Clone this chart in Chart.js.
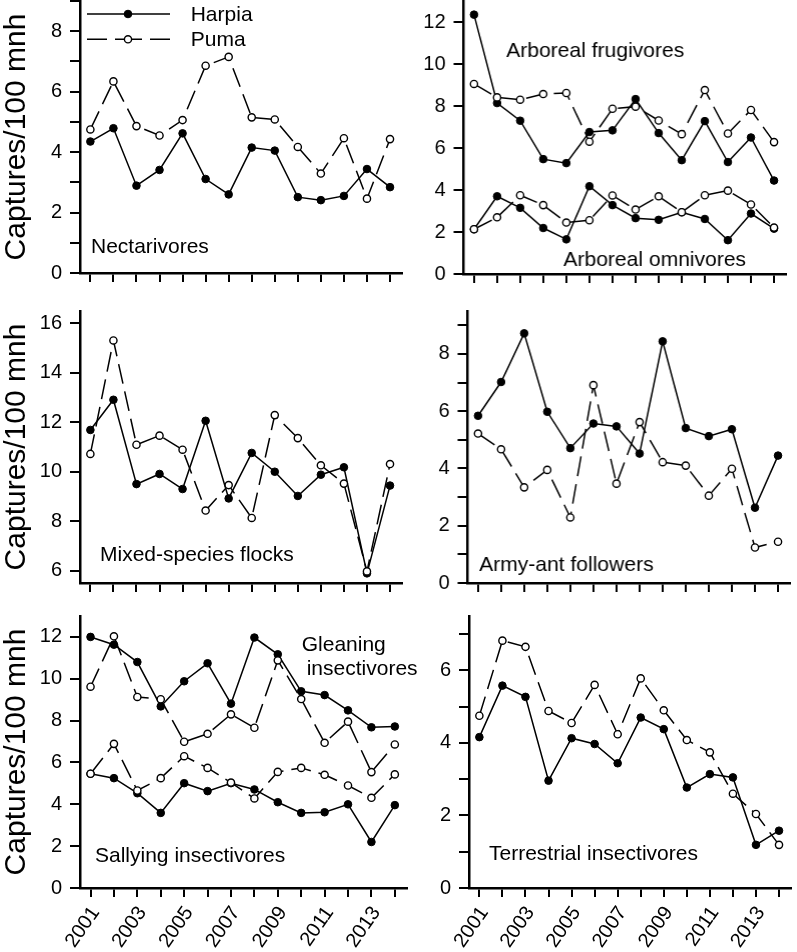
<!DOCTYPE html>
<html><head><meta charset="utf-8">
<script src="https://cdn.jsdelivr.net/npm/chart.js@4.4.1/dist/chart.umd.min.js"></script>
<style>
html,body{margin:0;padding:0;background:#fff;width:797px;height:952px;overflow:hidden;position:relative}
canvas{position:absolute;display:block}
</style></head><body>
<canvas id="c1"></canvas><canvas id="c2"></canvas><canvas id="c3"></canvas>
<canvas id="c4"></canvas><canvas id="c5"></canvas><canvas id="c6"></canvas>
<script>
// ---------- data ----------
const years = [2001,2002,2003,2004,2005,2006,2007,2008,2009,2010,2011,2012,2013,2014];
const yearTickLabels = ['2001','','2003','','2005','','2007','','2009','','2011','','2013',''];
const seriesNames = ['Harpia','Puma'];
const yAxisTitle = 'Captures/100 mnh';

const nectarivoresHarpia = [4.35,4.79,2.89,3.41,4.62,3.11,2.60,4.15,4.05,2.51,2.41,2.55,3.44,2.84];
const nectarivoresPuma   = [4.75,6.34,4.86,4.55,5.06,6.86,7.15,5.15,5.08,4.17,3.29,4.46,2.46,4.43];

const frugivoresHarpia = [12.35,8.14,7.30,5.47,5.28,6.76,6.84,8.33,6.71,5.42,7.28,5.33,6.50,4.45];
const frugivoresPuma   = [9.05,8.41,8.30,8.57,8.62,6.30,7.87,7.97,7.31,6.66,8.76,6.69,7.81,6.28];
const omnivoresHarpia  = [2.13,3.70,3.15,2.19,1.65,4.18,3.28,2.66,2.58,2.94,2.62,1.61,2.88,2.16];
const omnivoresPuma    = [2.13,2.70,3.75,3.28,2.45,2.56,3.74,3.07,3.70,2.94,3.75,3.97,3.31,2.21];

const flocksHarpia = [11.69,12.91,9.50,9.91,9.30,12.06,8.92,10.76,10.00,9.02,9.88,10.18,5.89,9.44];
const flocksPuma   = [10.72,15.31,11.09,11.46,10.89,8.43,9.46,8.13,12.29,11.36,10.26,9.52,5.97,10.31];

const antFollowersHarpia = [5.84,7.02,8.72,5.98,4.71,5.57,5.47,4.52,8.44,5.41,5.13,5.37,2.63,4.45];
const antFollowersPuma   = [5.22,4.67,3.34,3.95,2.29,6.91,3.47,5.62,4.22,4.10,3.05,3.99,1.24,1.44];

const gleaningHarpia = [12.00,11.63,10.80,8.68,9.88,10.74,8.81,11.97,11.17,9.40,9.22,8.49,7.68,7.72];
const gleaningPuma   = [9.62,12.03,9.13,9.02,6.99,7.37,8.30,7.66,10.88,9.03,6.94,7.95,5.54,6.86];
const sallyingHarpia = [5.46,5.25,4.53,3.59,5.01,4.63,5.01,4.71,4.10,3.59,3.62,4.00,2.20,3.96];
const sallyingPuma   = [5.46,6.89,4.66,5.25,6.30,5.74,5.04,4.28,5.55,5.74,5.41,4.90,4.31,5.43];

const terrestrialHarpia = [4.16,5.58,5.27,2.96,4.13,3.97,3.44,4.70,4.38,2.77,3.14,3.05,1.19,1.58];
const terrestrialPuma   = [4.75,6.82,6.65,4.88,4.55,5.60,4.24,5.78,4.90,4.08,3.74,2.60,2.04,1.19];

// ---------- style ----------
const FONT = 'Arial, "Liberation Sans", sans-serif';
Chart.defaults.font.family = FONT;
Chart.defaults.color = '#000';
const DASH = [20, 8];
const X_MIN = 2000.55, X_MAX = 2014.52, PLOT_W = 327;

function toXY(arr){ return years.map((yr,i)=>({x:yr, y:arr[i]})); }
function harpiaDs(arr){
  return {data:toXY(arr), borderColor:'#000', borderWidth:1.5, tension:0,
    pointRadius:3.8, pointBorderWidth:1, pointBackgroundColor:'#000', pointBorderColor:'#000', pointHoverRadius:3.8};
}
function pumaDs(arr){
  return {data:toXY(arr), borderColor:'#000', borderWidth:1.5, borderDash:DASH, tension:0,
    pointRadius:3.6, pointBorderWidth:1.4, pointBackgroundColor:'#fff', pointBorderColor:'#000', pointHoverRadius:3.6};
}

const textPlugin = {
  id:'panelText',
  afterDraw(chart, args, opts){
    const ctx = chart.ctx, a = chart.chartArea;
    ctx.save();
    ctx.fillStyle = '#000';
    ctx.font = '21px ' + FONT;
    ctx.textBaseline = 'alphabetic';
    ctx.textAlign = 'left';
    (opts.labels||[]).forEach(l => ctx.fillText(l.text, a.left + l.dx, a.top + l.dy));
    if (opts.legend){
      const x0 = a.left + 7, x1 = a.left + 90, xm = a.left + 48;
      const rows = [{dy:13, dash:false}, {dy:38.3, dash:true}];
      rows.forEach((r, i) => {
        const y = a.top + r.dy;
        ctx.strokeStyle = '#000'; ctx.lineWidth = 1.5;
        ctx.setLineDash(r.dash ? DASH : []);
        ctx.beginPath(); ctx.moveTo(x0, y); ctx.lineTo(xm, y); ctx.stroke();
        ctx.beginPath(); ctx.moveTo(x1, y); ctx.lineTo(xm, y); ctx.stroke();
        ctx.setLineDash([]);
        ctx.beginPath(); ctx.arc(xm, y, r.dash ? 3.6 : 3.8, 0, Math.PI*2);
        ctx.fillStyle = r.dash ? '#fff' : '#000'; ctx.fill();
        ctx.lineWidth = r.dash ? 1.4 : 1; ctx.stroke();
        ctx.fillStyle = '#000';
        ctx.fillText(seriesNames[i], a.left + 110.7, a.top + r.dy + 6.5);
      });
    }
    ctx.restore();
  }
};

function makePanel(id, spec){
  const bottomRow = spec.bottomRow, leftCol = spec.leftCol;
  const cx = leftCol ? 0 : 410;
  const padTop = 10, padRight = spec.padRight || 0;
  const yW = spec.left - cx;
  const xH = bottomRow ? 90 : 14;
  const cy = spec.top - padTop;
  const ch = (spec.bottom - cy) + xH;
  const cw = spec.left + PLOT_W - cx + padRight;
  const cv = document.getElementById(id);
  cv.width = cw; cv.height = ch;
  cv.style.left = cx + 'px'; cv.style.top = cy + 'px';
  cv.style.width = cw + 'px'; cv.style.height = ch + 'px';
  new Chart(cv.getContext('2d'), {
    type:'line',
    data:{datasets: spec.datasets},
    plugins:[textPlugin],
    options:{
      responsive:false, animation:false, devicePixelRatio:1, events:[],
      layout:{padding:{left:0, top:padTop, right:padRight, bottom:0}},
      plugins:{legend:{display:false}, tooltip:{enabled:false},
        panelText:{labels:spec.labels, legend:!!spec.legend}},
      scales:{
        x:{type:'linear', min:X_MIN, max:X_MAX, offset:false,
          afterBuildTicks: ax => { ax.ticks = years.map(v => ({value:v})); },
          afterFit: ax => { ax.height = xH; ax.paddingLeft = 0; ax.paddingRight = 0; },
          ticks:{autoSkip:false, minRotation: bottomRow?55:0, maxRotation: bottomRow?55:0,
            padding:5, labelOffset: bottomRow?5:0, font:{size:20}, color:'#000',
            callback:(v,i) => bottomRow ? yearTickLabels[i] : ''},
          grid:{drawOnChartArea:false, drawTicks:true, tickLength:9, tickWidth:2, tickColor:'#000', color:'#000', lineWidth:2},
          border:{display:true, color:'#000', width:2.5}
        },
        y:{type:'linear', min:spec.yMin, max:spec.yMax,
          afterBuildTicks: ax => { const t=[]; for(let v=Math.ceil(ax.min); v<=Math.floor(ax.max); v++) t.push({value:v}); ax.ticks=t; },
          afterFit: ax => { ax.width = yW; ax.paddingTop = 0; ax.paddingBottom = 0; },
          ticks:{padding:8, font:{size:20}, color:'#000', callback: v => (v % 2 === 0 ? String(v) : '')},
          grid:{drawOnChartArea:false, drawTicks:true, tickLength:10, tickWidth:2, tickColor:'#000', color:'#000', lineWidth:2},
          border:{display:true, color:'#000', width:2.5},
          title:{display:leftCol, text:yAxisTitle, font:{size:30, lineHeight:1.1}, color:'#000', padding:{top:0,bottom:0}}
        }
      }
    }
  });
}

makePanel('c1', {leftCol:true, bottomRow:false, left:80, top:1, bottom:273, yMin:0, yMax:9, legend:true,
  labels:[{text:'Nectarivores', dx:11, dy:252.3}],
  datasets:[pumaDs(nectarivoresPuma), harpiaDs(nectarivoresHarpia)]});
makePanel('c2', {leftCol:false, bottomRow:false, left:463.5, top:1, bottom:274, yMin:0, yMax:13,
  labels:[{text:'Arboreal frugivores', dx:42.5, dy:55.7},{text:'Arboreal omnivores', dx:99.5, dy:264.7}],
  datasets:[pumaDs(frugivoresPuma), pumaDs(omnivoresPuma), harpiaDs(frugivoresHarpia), harpiaDs(omnivoresHarpia)]});
makePanel('c3', {leftCol:true, bottomRow:false, left:80, top:311, bottom:583, yMin:5.5, yMax:16.5,
  labels:[{text:'Mixed-species flocks', dx:20, dy:249.7}],
  datasets:[pumaDs(flocksPuma), harpiaDs(flocksHarpia)]});
makePanel('c4', {leftCol:false, bottomRow:false, left:467.5, top:310.5, bottom:582.5, yMin:0, yMax:9.5,
  labels:[{text:'Army-ant followers', dx:11.5, dy:260.2}],
  datasets:[pumaDs(antFollowersPuma), harpiaDs(antFollowersHarpia)]});
makePanel('c5', {leftCol:true, bottomRow:true, left:80, top:615.5, bottom:887.5, yMin:0, yMax:13, padRight:30,
  labels:[{text:'Sallying insectivores', dx:15, dy:246},{text:'Gleaning', dx:221.7, dy:35.2},{text:'insectivores', dx:226.7, dy:58.5}],
  datasets:[pumaDs(gleaningPuma), pumaDs(sallyingPuma), harpiaDs(gleaningHarpia), harpiaDs(sallyingHarpia)]});
makePanel('c6', {leftCol:false, bottomRow:true, left:469, top:615.5, bottom:887.5, yMin:0, yMax:7.5,
  labels:[{text:'Terrestrial insectivores', dx:20, dy:243.8}],
  datasets:[pumaDs(terrestrialPuma), harpiaDs(terrestrialHarpia)]});
</script>
</body></html>
